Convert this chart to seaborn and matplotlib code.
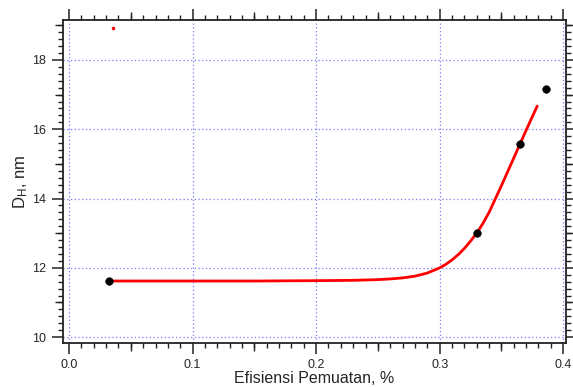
import numpy as np
import pandas as pd
import matplotlib
matplotlib.use("Agg")
import matplotlib.pyplot as plt
import seaborn as sns
from matplotlib.ticker import MultipleLocator

# measured points
eff = [0.032, 0.330, 0.365, 0.386]
dh = [11.62, 13.02, 15.58, 17.17]

# fitted curve
fit_x = [0.032, 0.10, 0.15, 0.20, 0.23, 0.25, 0.26, 0.27, 0.28, 0.29, 0.30,
         0.305, 0.31, 0.315, 0.32, 0.325, 0.33, 0.335, 0.34, 0.35, 0.36, 0.37, 0.379]
fit_y = [11.62, 11.62, 11.62, 11.63, 11.64, 11.66, 11.68, 11.71, 11.76, 11.85, 12.0,
         12.1, 12.23, 12.38, 12.56, 12.77, 13.0, 13.28, 13.6, 14.37, 15.17, 15.97, 16.67]

# stray marker near the top
stray_x = [0.0356]
stray_y = [18.91]

sns.set_style("white")
plt.rcParams['font.family'] = ['Liberation Sans', 'DejaVu Sans']
plt.rcParams['mathtext.fontset'] = 'custom'
plt.rcParams['mathtext.rm'] = 'Liberation Sans'
plt.rcParams['mathtext.it'] = 'Liberation Sans'

fig = plt.figure(figsize=(5.73, 3.87), dpi=100)
ax = fig.add_axes([0.110, 0.1145, 0.878, 0.8335])

df_pts = pd.DataFrame({'x': eff, 'y': dh})
df_fit = pd.DataFrame({'x': fit_x, 'y': fit_y})

sns.lineplot(data=df_fit, x='x', y='y', ax=ax, color='#ff0000', lw=2, sort=False, zorder=3)
sns.scatterplot(data=df_pts, x='x', y='y', ax=ax, color='black', s=30, edgecolor='black', zorder=4)
ax.plot(stray_x, stray_y, marker='.', color='#ff0000', ms=3, ls='none')

xmin, xmax = -0.0049, 0.4024
ymin, ymax = 9.84, 19.15
ax.set_xlim(xmin, xmax)
ax.set_ylim(ymin, ymax)

ax.set_xticks([0.0, 0.1, 0.2, 0.3, 0.4])
ax.set_xticklabels(['0.0', '0.1', '0.2', '0.3', '0.4'])
ax.set_yticks([10, 12, 14, 16, 18])
ax.xaxis.set_minor_locator(MultipleLocator(0.01))
ax.yaxis.set_minor_locator(MultipleLocator(0.2))

ax.grid(True, which='major', color='#7b7bff', ls=(0, (1, 2)), lw=0.9)
for s in ax.spines.values():
    s.set_color('#222222')
    s.set_linewidth(1.3)

ax.tick_params(which='major', direction='out', length=8, width=1.1, color='#222222',
               top=True, right=True, bottom=True, left=True, labelsize=9, pad=4)
ax.tick_params(which='minor', direction='out', length=3.5, width=1.0, color='#222222',
               top=True, right=True, bottom=True, left=True)

ax.set_xlabel('Efisiensi Pemuatan, %', fontsize=11.5, labelpad=0)
ax.set_ylabel(r'D$_\mathrm{H}$, nm', fontsize=12, labelpad=2)

# medium ticks at half-major positions
ax2 = fig.add_axes(ax.get_position(), frameon=False)
ax2.set_xlim(xmin, xmax)
ax2.set_ylim(ymin, ymax)
ax2.set_xticks([0.05, 0.15, 0.25, 0.35])
ax2.set_yticks([11, 13, 15, 17, 19])
ax2.tick_params(direction='out', length=5.5, width=1.0, color='#222222',
                top=True, right=True, bottom=True, left=True,
                labelbottom=False, labelleft=False)
ax2.patch.set_visible(False)

fig.savefig('out.png', dpi=100)
